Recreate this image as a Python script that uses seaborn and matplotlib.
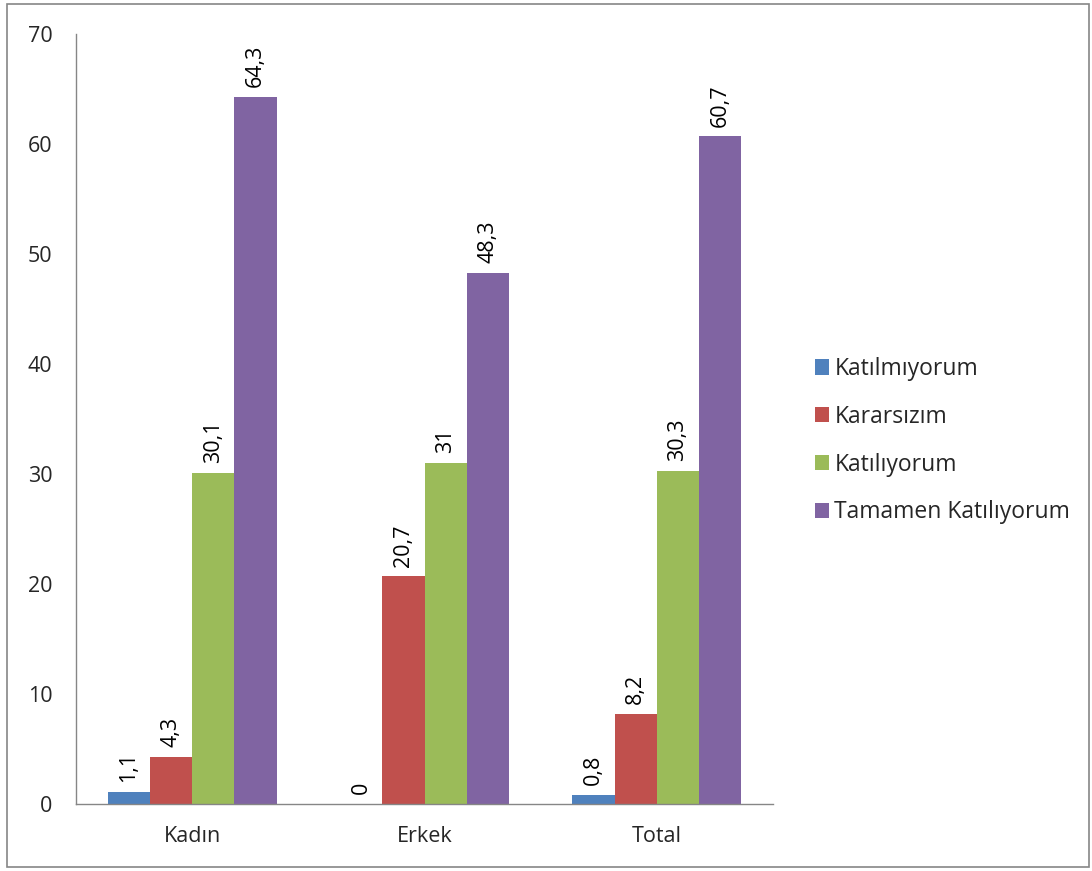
import matplotlib
matplotlib.use("Agg")
import matplotlib.pyplot as plt
import seaborn as sns
import pandas as pd
from matplotlib.patches import Rectangle, Patch

groups = ["Kadın", "Erkek", "Total"]
series = ["Katılmıyorum", "Kararsızım", "Katılıyorum", "Tamamen Katılıyorum"]
katilmiyorum = [1.1, 0, 0.8]
kararsizim = [4.3, 20.7, 8.2]
katiliyorum = [30.1, 31, 30.3]
tamamen = [64.3, 48.3, 60.7]
labels_txt = {
    "Katılmıyorum": ["1,1", "0", "0,8"],
    "Kararsızım": ["4,3", "20,7", "8,2"],
    "Katılıyorum": ["30,1", "31", "30,3"],
    "Tamamen Katılıyorum": ["64,3", "48,3", "60,7"],
}
colors = ["#4F81BD", "#C0504D", "#9BBB59", "#8064A2"]

rows = []
for s, vals in zip(series, [katilmiyorum, kararsizim, katiliyorum, tamamen]):
    for g, v in zip(groups, vals):
        rows.append({"group": g, "series": s, "value": v})
df = pd.DataFrame(rows)

sns.set_style("white")
plt.rcParams["font.family"] = ["Open Sans", "DejaVu Sans"]
FS = 15.5

fig = plt.figure(figsize=(10.92, 8.71), dpi=100)
ax = fig.add_axes([0.0696, 0.0769, 0.6383, 0.8841])

sns.barplot(data=df, x="group", y="value", hue="series", order=groups,
            hue_order=series, palette=colors, width=0.727, ax=ax,
            edgecolor="none", saturation=1, legend=False, errorbar=None)

for cont, s in zip(ax.containers, series):
    ax.bar_label(cont, labels=labels_txt[s], rotation=90, padding=7,
                 fontsize=FS, color="black")

ax.set_xlim(-0.5, 2.5)
ax.set_ylim(0, 70)
ax.set_yticks(range(0, 71, 10))
ax.set_xlabel("")
ax.set_ylabel("")
ax.set_xticks([0, 1, 2])
ax.set_xticklabels(groups)
ax.set_xticks([-0.5, 0.5, 1.5, 2.5], minor=True)
ax.tick_params(axis="x", which="major", length=0, pad=16, labelsize=FS)
ax.tick_params(axis="x", which="minor", length=7, color="#868686", direction="out", width=1)
ax.tick_params(axis="y", length=7, color="#868686", direction="out", width=1, pad=10, labelsize=FS)
for sp in ["top", "right"]:
    ax.spines[sp].set_visible(False)
for sp in ["left", "bottom"]:
    ax.spines[sp].set_color("#868686")
    ax.spines[sp].set_linewidth(1)

handles = [Patch(facecolor=c, edgecolor="none") for c in colors]
fig.legend(handles, series, loc="center left", bbox_to_anchor=(0.727, 0.494),
           frameon=False, fontsize=16.5, handlelength=0.65, handleheight=0.65,
           handletextpad=0.22, labelspacing=1.04)

fig.patches.append(Rectangle((0.0064, 0.005), 0.991, 0.99, transform=fig.transFigure,
                             fill=False, edgecolor="#868686", linewidth=1.2))

fig.savefig("out.png", dpi=100)
